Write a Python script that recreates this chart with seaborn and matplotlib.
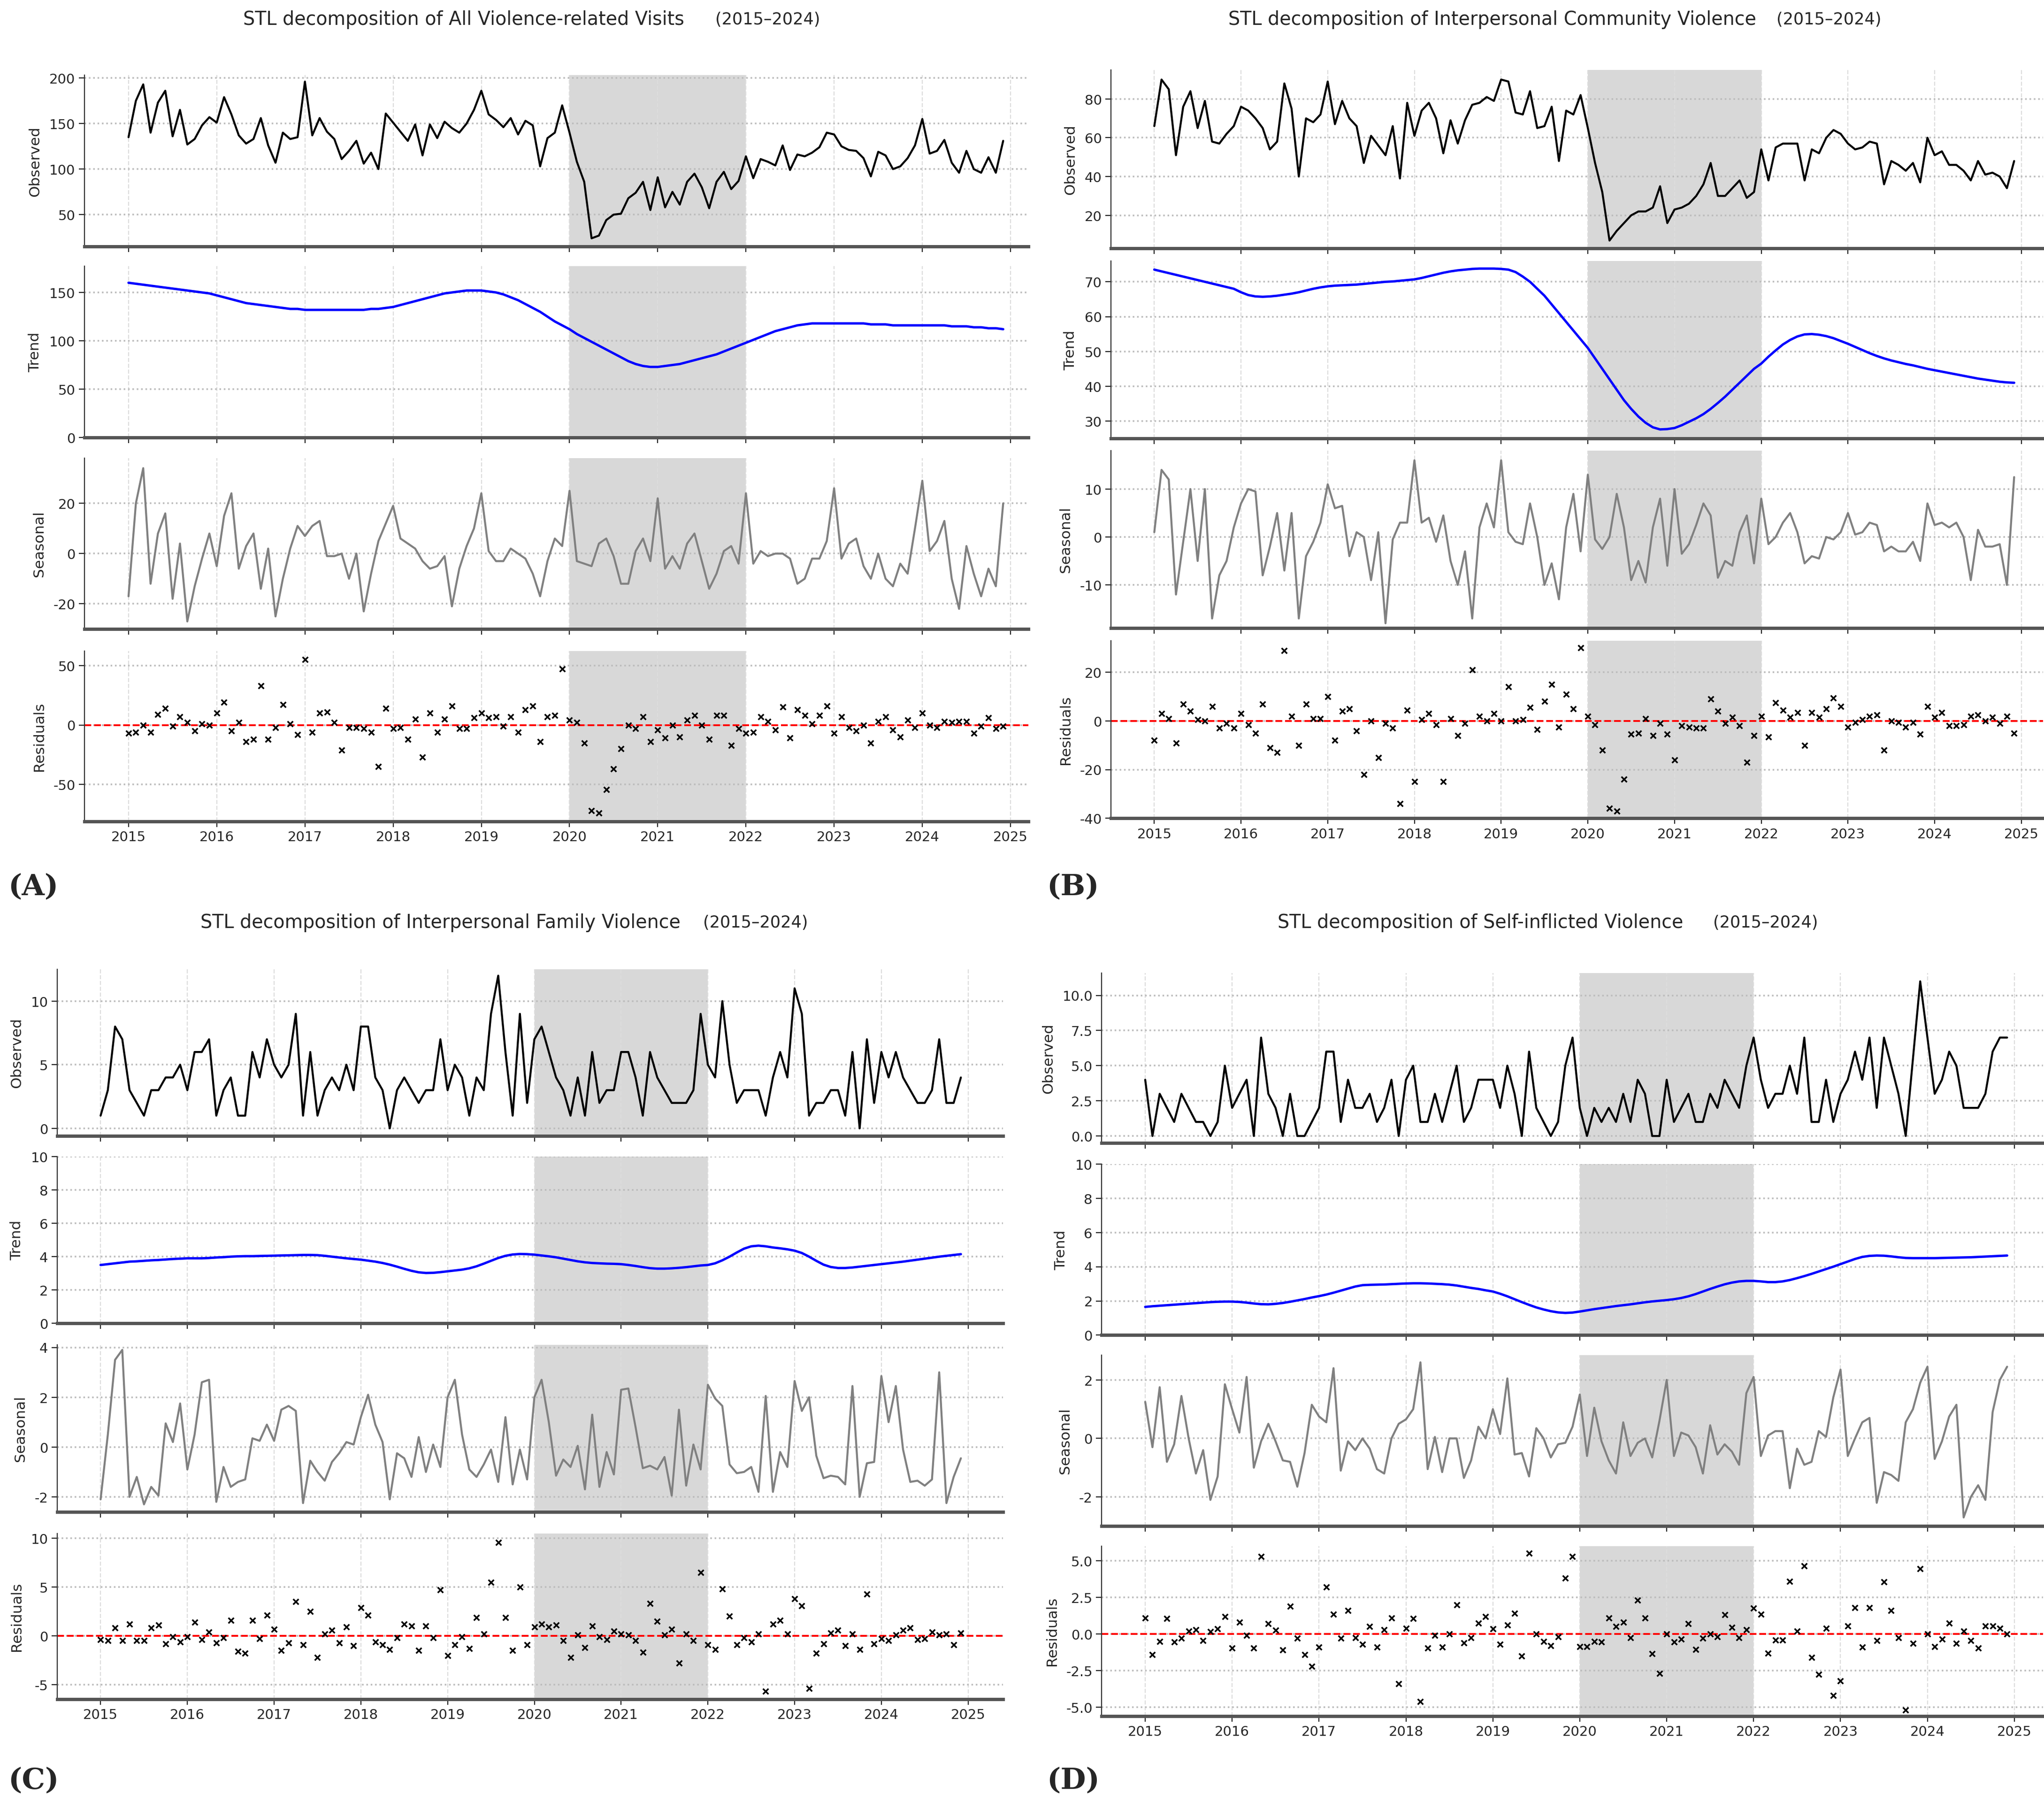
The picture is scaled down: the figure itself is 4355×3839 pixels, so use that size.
import numpy as np
import pandas as pd
import matplotlib
matplotlib.use("Agg")
import matplotlib.pyplot as plt
import seaborn as sns

# ---- data (monthly, Jan 2015 .. Dec 2024) ----
years = list(range(2015, 2025))

# (A) All Violence-related Visits
a_observed = [
    135, 175, 193, 140, 173, 186, 136, 165, 127, 133, 148, 157,
    151, 179, 160, 137, 128, 133, 156, 126, 107, 140, 133, 135,
    196, 137, 156, 141, 133, 111, 120, 131, 106, 118, 100, 161,
    151, 141, 131, 149, 115, 149, 134, 152, 145, 140, 150, 165,
    186, 160, 154, 146, 156, 138, 153, 148, 103, 134, 140, 170,
    140, 108, 86, 24, 27, 44, 50, 51, 68, 74, 86, 55,
    91, 58, 75, 61, 86, 95, 80, 57, 86, 97, 78, 87,
    114, 90, 111, 108, 104, 126, 99, 116, 114, 118, 124, 140,
    138, 125, 121, 120, 112, 92, 119, 115, 100, 103, 112, 126,
    155, 117, 120, 132, 107, 96, 120, 100, 96, 113, 96, 131]
a_trend = [
    160, 159, 158, 157, 156, 155, 154, 153, 152, 151, 150, 149,
    147, 145, 143, 141, 139, 138, 137, 136, 135, 134, 133, 133,
    132, 132, 132, 132, 132, 132, 132, 132, 132, 133, 133, 134,
    135, 137, 139, 141, 143, 145, 147, 149, 150, 151, 152, 152,
    152, 151, 150, 148, 145, 142, 138, 134, 130, 125, 120, 116,
    112, 107, 103, 99, 95, 91, 87, 83, 79, 76, 74, 73,
    73, 74, 75, 76, 78, 80, 82, 84, 86, 89, 92, 95,
    98, 101, 104, 107, 110, 112, 114, 116, 117, 118, 118, 118,
    118, 118, 118, 118, 118, 117, 117, 117, 116, 116, 116, 116,
    116, 116, 116, 116, 115, 115, 115, 114, 114, 113, 113, 112]
a_seasonal = [
    -17, 20, 34, -12, 8, 16, -18, 4, -27, -13, -2, 8,
    -5, 15, 24, -6, 3, 8, -14, 2, -25, -10, 2, 11,
    7, 11, 13, -1, -1, 0, -10, 0, -23, -8, 5, 12,
    19, 6, 4, 2, -3, -6, -5, -1, -21, -6, 3, 10,
    24, 1, -3, -3, 2, 0, -2, -8, -17, -3, 6, 3,
    25, -3, -4, -5, 4, 6, -1, -12, -12, 1, 6, -3,
    22, -6, -1, -6, 4, 8, -3, -14, -8, 1, 3, -4,
    24, -4, 1, -1, 0, 0, -2, -12, -10, -2, -2, 5,
    26, -2, 4, 6, -5, -10, 0, -10, -13, -4, -8, 10,
    29, 1, 5, 13, -10, -22, 3, -8, -17, -6, -13, 20]
a_resid = [
    -7, -6, 0, -6, 9, 14, -1, 7, 2, -5, 1, 0,
    10, 19, -5, 2, -14, -12, 33, -12, -2, 17, 1, -8,
    55, -6, 10, 11, 2, -21, -2, -2, -3, -6, -35, 14,
    -3, -2, -12, 5, -27, 10, -6, 5, 16, -3, -3, 6,
    10, 6, 7, -1, 7, -6, 13, 16, -14, 7, 8, 47,
    4, 2, -15, -72, -74, -54, -37, -20, 0, -3, 7, -14,
    -4, -11, 0, -10, 4, 8, 0, -12, 8, 8, -17, -3,
    -7, -6, 7, 3, -4, 15, -11, 13, 8, 1, 8, 16,
    -7, 7, -2, -5, 0, -15, 3, 7, -4, -10, 4, -2,
    10, 0, -2, 3, 2, 3, 3, -7, -1, 6, -3, -1]

# (B) Interpersonal Community Violence
b_observed = [
    66, 90, 85, 51, 76, 84, 65, 79, 58, 57, 62, 66,
    76, 74, 70, 65, 54, 58, 88, 75, 40, 70, 68, 72,
    89, 67, 79, 70, 66, 47, 61, 56, 51, 66, 39, 78,
    61, 74, 78, 70, 52, 69, 57, 69, 77, 78, 81, 79,
    90, 89, 73, 72, 84, 65, 66, 76, 48, 74, 72, 82,
    65, 47, 32, 7, 12, 16, 20, 22, 22, 24, 35, 16,
    23, 24, 26, 30, 36, 47, 30, 30, 34, 38, 29, 32,
    54, 38, 55, 57, 57, 57, 38, 54, 52, 60, 64, 62,
    57, 54, 55, 58, 57, 36, 48, 46, 43, 47, 37, 60,
    51, 53, 46, 46, 43, 38, 48, 41, 42, 40, 34, 48]
b_trend = [
    73.5, 73, 72.5, 72, 71.5, 71, 70.5, 70, 69.5, 69, 68.5, 68,
    67, 66.2, 65.8, 65.7, 65.8, 66, 66.3, 66.6, 67, 67.5, 68, 68.4,
    68.7, 68.9, 69, 69.1, 69.2, 69.4, 69.6, 69.8, 70, 70.1, 70.3, 70.5,
    70.7, 71.1, 71.6, 72.1, 72.6, 73, 73.3, 73.5, 73.7, 73.8, 73.8, 73.8,
    73.7, 73.5, 72.8, 71.5, 70, 68, 66, 63.5, 61, 58.5, 56, 53.5,
    51, 48, 45, 42, 39, 36, 33.5, 31.3, 29.5, 28.2, 27.6, 27.7,
    28, 28.8, 29.8, 30.8, 32, 33.5, 35.2, 37, 39, 41, 43, 45,
    46.5, 48.5, 50.3, 52, 53.3, 54.3, 54.9, 55, 54.8, 54.4, 53.8, 53,
    52.2, 51.3, 50.4, 49.5, 48.7, 48, 47.4, 46.9, 46.4, 46, 45.5, 45,
    44.6, 44.2, 43.8, 43.4, 43, 42.6, 42.2, 41.9, 41.6, 41.3, 41.1, 41]
b_seasonal = [
    1, 14, 12, -12, -1, 10, -5, 10, -17, -8, -5, 2,
    7, 10, 9.5, -8, -2, 5, -7, 5, -17, -4, -1, 3,
    11, 6, 6.5, -4, 1, 0, -9, 1, -18, -0.5, 3, 3,
    16, 3, 4, -1, 4.5, -5, -10, -3, -17, 2, 7, 2,
    16, 1, -1, -1.5, 7, 0, -10, -5.5, -13, 2, 9, -3,
    13, -0.5, -2.5, 0, 9, 2, -9, -5, -9.5, 2, 8, -6,
    10, -3.5, -1.5, 2.5, 7, 4.5, -8.5, -5, -6, 1, 4.5, -5.5,
    8, -1.5, 0, 3, 5, 1, -5.5, -4, -4.5, 0, -0.5, 1,
    5, 0.5, 1, 3, 2.5, -3, -2, -3, -3, -1, -5, 7,
    2.5, 3, 2, 3, 0, -9, 1.5, -2, -2, -1.5, -10, 12.5]
b_resid = [
    -8, 3, 1, -9, 7, 4, 0.5, 0, 6, -3, -1, -3,
    3, -1.5, -5, 7, -11, -13, 29, 2, -10, 7, 1, 1,
    10, -8, 4, 5, -4, -22, 0, -15, -1, -3, -34, 4.5,
    -25, 0.5, 3, -1.5, -25, 1, -6, -1, 21, 2, 0, 3,
    0, 14, 0, 0.5, 5.5, -3.5, 8, 15, -2.5, 11, 5, 30,
    2, -1.5, -12, -36, -37, -24, -5.5, -5, 1, -6, -1, -5.5,
    -16, -2, -2.5, -3, -3, 9, 4, -1, 1.5, -2, -17, -6,
    2, -6.5, 7.5, 4.5, 1.5, 3.5, -10, 3.5, 1.5, 5, 9.5, 6,
    -2.5, -0.5, 0.5, 2, 2.5, -12, 0, -0.5, -2.5, -0.5, -5.5, 6,
    1.5, 3.5, -2, -2, -1.5, 2, 2.5, 0, 1.5, -1, 2, -5]

# (C) Interpersonal Family Violence
c_observed = [
    1, 3, 8, 7, 3, 2, 1, 3, 3, 4, 4, 5,
    3, 6, 6, 7, 1, 3, 4, 1, 1, 6, 4, 7,
    5, 4, 5, 9, 1, 6, 1, 3, 4, 3, 5, 3,
    8, 8, 4, 3, 0, 3, 4, 3, 2, 3, 3, 7,
    3, 5, 4, 1, 4, 3, 9, 12, 6, 1, 9, 2,
    7, 8, 6, 4, 3, 1, 4, 1, 6, 2, 3, 3,
    6, 6, 4, 1, 6, 4, 3, 2, 2, 2, 3, 9,
    5, 4, 10, 5, 2, 3, 3, 3, 1, 4, 6, 4,
    11, 9, 1, 2, 2, 3, 3, 1, 6, 0, 7, 2,
    6, 4, 6, 4, 3, 2, 2, 3, 7, 2, 2, 4]
c_trend = [
    3.5, 3.55, 3.6, 3.65, 3.7, 3.72, 3.75, 3.78, 3.8, 3.83, 3.86, 3.88,
    3.9, 3.9, 3.9, 3.92, 3.95, 3.97, 4.0, 4.02, 4.03, 4.03, 4.04, 4.05,
    4.06, 4.07, 4.08, 4.09, 4.1, 4.1, 4.09, 4.05, 4.0, 3.95, 3.9, 3.86,
    3.82, 3.76, 3.7, 3.62, 3.52, 3.4, 3.27, 3.15, 3.06, 3.02, 3.03, 3.07,
    3.12, 3.17, 3.22, 3.3, 3.42, 3.58, 3.75, 3.92, 4.05, 4.13, 4.16, 4.15,
    4.12, 4.07, 4.02, 3.96, 3.88, 3.8, 3.72, 3.66, 3.62, 3.6, 3.58, 3.57,
    3.55, 3.5, 3.44, 3.37, 3.31, 3.28, 3.28, 3.3, 3.33, 3.37, 3.42, 3.47,
    3.5, 3.6, 3.78, 4.0, 4.25, 4.48, 4.62, 4.66, 4.62, 4.55, 4.5, 4.44,
    4.36, 4.22, 4.0, 3.75, 3.52, 3.38, 3.32, 3.32, 3.35, 3.4, 3.45, 3.5,
    3.55, 3.6, 3.65, 3.7, 3.76, 3.82, 3.88, 3.94, 4.0, 4.05, 4.1, 4.15]
c_seasonal = [
    -2.1, 0.5, 3.5, 3.9, -2.0, -1.2, -2.3, -1.6, -1.95, 0.95, 0.2, 1.75,
    -0.9, 0.5, 2.6, 2.7, -2.2, -0.8, -1.6, -1.4, -1.3, 0.35, 0.25, 0.9,
    0.25, 1.5, 1.65, 1.45, -2.25, -0.55, -1.0, -1.35, -0.6, -0.25, 0.2, 0.1,
    1.2, 2.1, 0.9, 0.2, -2.1, -0.25, -0.45, -1.2, 0.4, -1.0, 0.1, -0.8,
    2.0, 2.7, 0.5, -0.9, -1.2, -0.7, -0.1, -1.4, 1.2, -1.5, -0.1, -1.3,
    2.0, 2.7, 1.0, -1.15, -0.5, -0.8, 0.05, -1.7, 1.3, -1.6, -0.2, -1.1,
    2.3, 2.35, 0.8, -0.85, -0.75, -0.9, -0.4, -1.95, 1.5, -1.55, 0.1, -0.9,
    2.5, 1.95, 1.65, -0.7, -1.05, -1.0, -0.8, -1.8, 2.05, -1.8, -0.2, -0.8,
    2.65, 1.45, 2.0, -0.35, -1.25, -1.15, -1.2, -1.5, 2.45, -2.0, -0.65, -0.6,
    2.85, 1.0, 2.45, -0.1, -1.4, -1.35, -1.55, -1.3, 3.0, -2.25, -1.2, -0.45]
c_resid = [
    -0.4, -0.5, 0.8, -0.5, 1.2, -0.5, -0.5, 0.8, 1.1, -0.8, -0.1, -0.6,
    -0.1, 1.4, -0.4, 0.4, -0.7, -0.2, 1.6, -1.6, -1.8, 1.6, -0.3, 2.1,
    0.7, -1.5, -0.7, 3.5, -0.9, 2.5, -2.2, 0.2, 0.6, -0.7, 0.9, -1.0,
    2.9, 2.1, -0.6, -0.9, -1.4, -0.2, 1.2, 1.0, -1.5, 1.0, -0.2, 4.7,
    -2.0, -0.9, -0.1, -1.3, 1.9, 0.2, 5.5, 9.6, 1.9, -1.5, 5.0, -0.9,
    0.9, 1.2, 0.9, 1.1, -0.5, -2.2, 0.1, -1.2, 1.0, -0.1, -0.4, 0.5,
    0.2, 0.1, -0.5, -1.7, 3.3, 1.5, 0.1, 0.7, -2.8, 0.2, -0.5, 6.5,
    -0.9, -1.4, 4.8, 2.0, -0.9, -0.2, -0.6, 0.2, -5.7, 1.2, 1.6, 0.2,
    3.8, 3.1, -5.4, -1.8, -0.8, 0.3, 0.6, -1.0, 0.2, -1.4, 4.3, -0.8,
    -0.3, -0.5, 0.1, 0.6, 0.8, -0.4, -0.3, 0.4, 0.1, 0.2, -0.9, 0.3]

# (D) Self-inflicted Violence
d_observed = [
    4, 0, 3, 2, 1, 3, 2, 1, 1, 0, 1, 5,
    2, 3, 4, 0, 7, 3, 2, 0, 3, 0, 0, 1,
    2, 6, 6, 1, 4, 2, 2, 3, 1, 2, 4, 0,
    4, 5, 1, 1, 3, 1, 3, 5, 1, 2, 4, 4,
    4, 2, 5, 3, 0, 6, 2, 1, 0, 1, 5, 7,
    2, 0, 2, 1, 2, 1, 3, 1, 4, 3, 0, 0,
    4, 1, 2, 3, 1, 1, 3, 2, 4, 3, 2, 5,
    7, 4, 2, 3, 3, 5, 3, 7, 1, 1, 4, 1,
    3, 4, 6, 4, 7, 2, 7, 5, 3, 0, 5.5, 11,
    7, 3, 4, 6, 5, 2, 2, 2, 3, 6, 7, 7]
d_trend = [
    1.65, 1.69, 1.72, 1.75, 1.78, 1.81, 1.84, 1.87, 1.9, 1.93, 1.95, 1.96,
    1.96, 1.94, 1.9, 1.85, 1.81, 1.8, 1.83, 1.88, 1.95, 2.03, 2.11, 2.2,
    2.28, 2.37, 2.48, 2.6, 2.72, 2.84, 2.92, 2.94, 2.95, 2.96, 2.98, 3.0,
    3.02, 3.03, 3.03, 3.02, 3.0, 2.98, 2.95, 2.9, 2.83, 2.76, 2.7, 2.62,
    2.55, 2.42, 2.27, 2.1, 1.93, 1.77, 1.62, 1.5, 1.4, 1.33, 1.3, 1.32,
    1.38, 1.45, 1.52, 1.58, 1.64, 1.7, 1.75, 1.8, 1.86, 1.92, 1.97, 2.01,
    2.05, 2.1, 2.17, 2.27, 2.4, 2.55, 2.7, 2.84, 2.97, 3.07, 3.14, 3.17,
    3.17, 3.14, 3.1, 3.1, 3.14, 3.22, 3.33, 3.45, 3.58, 3.72, 3.86, 4.0,
    4.15, 4.3, 4.45, 4.57, 4.63, 4.65, 4.64, 4.6, 4.55, 4.51, 4.5, 4.5,
    4.5, 4.5, 4.51, 4.52, 4.53, 4.54, 4.55, 4.57, 4.59, 4.61, 4.63, 4.65]
d_seasonal = [
    1.25, -0.3, 1.75, -0.8, -0.2, 1.45, 0.0, -1.2, -0.4, -2.1, -1.3, 1.85,
    1.0, 0.2, 2.1, -1.0, -0.1, 0.5, -0.1, -0.75, -0.8, -1.65, -0.5, 1.15,
    0.75, 0.55, 2.4, -1.1, -0.1, -0.4, 0.0, -0.35, -1.05, -1.2, 0.0, 0.5,
    0.65, 1.0, 2.6, -1.05, 0.05, -1.15, 0.0, 0.0, -1.35, -0.75, 0.4, 0.0,
    1.0, 0.15, 2.05, -0.55, -0.5, -1.3, 0.35, 0.0, -0.65, -0.2, -0.15, 0.4,
    1.5, -0.6, 1.05, -0.1, -0.75, -1.2, 0.55, -0.6, -0.15, 0.0, -0.65, 0.6,
    2.0, -0.6, 0.2, 0.1, -0.3, -1.2, 0.45, -0.55, -0.2, -0.45, -0.9, 1.55,
    2.1, -0.6, 0.1, 0.25, 0.25, -1.7, -0.35, -0.9, -0.8, 0.25, 0.05, 1.4,
    2.35, -0.6, 0.0, 0.55, 0.7, -2.2, -1.15, -1.25, -1.45, 0.55, 1.0, 1.9,
    2.45, -0.7, -0.1, 0.75, 1.15, -2.7, -2.0, -1.6, -2.1, 0.9, 2.0, 2.45]
d_resid = [
    1.1, -1.4, -0.5, 1.05, -0.55, -0.3, 0.2, 0.3, -0.45, 0.15, 0.35, 1.2,
    -0.95, 0.8, -0.1, -0.95, 5.3, 0.7, 0.25, -1.1, 1.9, -0.3, -1.4, -2.2,
    -0.9, 3.2, 1.35, -0.3, 1.6, -0.25, -0.7, 0.5, -0.9, 0.3, 1.1, -3.4,
    0.4, 1.05, -4.6, -0.95, -0.1, -0.9, 0.0, 2.0, -0.6, -0.25, 0.75, 1.2,
    0.35, -0.7, 0.6, 1.4, -1.5, 5.5, 0.0, -0.5, -0.8, -0.2, 3.8, 5.3,
    -0.85, -0.85, -0.5, -0.55, 1.1, 0.5, 0.8, -0.25, 2.3, 1.1, -1.35, -2.7,
    0.0, -0.55, -0.35, 0.7, -1.05, -0.3, 0.0, -0.2, 1.3, 0.45, -0.25, 0.3,
    1.75, 1.35, -1.3, -0.4, -0.4, 3.6, 0.2, 4.65, -1.6, -2.75, 0.4, -4.2,
    -3.2, 0.55, 1.8, -0.9, 1.8, -0.45, 3.55, 1.6, -0.25, -5.2, -0.65, 4.45,
    0.0, -0.85, -0.35, 0.75, -0.65, 0.2, -0.45, -0.95, 0.55, 0.55, 0.4, 0.0]

titles = ["All Violence-related Visits", "Interpersonal Community Violence",
          "Interpersonal Family Violence", "Self-inflicted Violence"]
panel_letters = ["(A)", "(B)", "(C)", "(D)"]

# ---- layout ----
sns.set_style("white")
plt.rcParams["font.family"] = ["DejaVu Sans"]

fig = plt.figure(figsize=(15.554, 13.714), dpi=280)

t = 2015 + np.arange(120) / 12.0

panels = [
    dict(obs=a_observed, trend=a_trend, seas=a_seasonal, res=a_resid,
         left=0.0413, right=0.503, xlim=(2014.5, 2025.2),
         rows=[(0.958, 0.863), (0.852, 0.757), (0.7456, 0.6508), (0.6385, 0.544)],
         ylims=[(15, 203), (0, 177), (-30, 38), (-81, 62)],
         yticks=[[50, 100, 150, 200], [0, 50, 100, 150], [-20, 0, 20], [-50, 0, 50]],
         title_x=(0.119, 0.350), title_y=0.989, lab=(0.004, 0.508)),
    dict(obs=b_observed, trend=b_trend, seas=b_seasonal, res=b_resid,
         left=0.5435, right=0.9995, xlim=(2014.5, 2025.25),
         rows=[(0.961, 0.862), (0.855, 0.7565), (0.7497, 0.6513), (0.6443, 0.5458)],
         ylims=[(3, 95), (25, 76), (-19, 18), (-40, 33)],
         yticks=[[20, 40, 60, 80], [30, 40, 50, 60, 70], [-10, 0, 10], [-40, -20, 0, 20]],
         title_x=(0.601, 0.869), title_y=0.989, lab=(0.512, 0.508)),
    dict(obs=c_observed, trend=c_trend, seas=c_seasonal, res=c_resid,
         left=0.028, right=0.4906, xlim=(2014.5, 2025.4),
         rows=[(0.462, 0.3695), (0.358, 0.2656), (0.2536, 0.161), (0.149, 0.057)],
         ylims=[(-0.6, 12.5), (0, 10), (-2.6, 4.1), (-6.5, 10.5)],
         yticks=[[0, 5, 10], [0, 2, 4, 6, 8, 10], [-2, 0, 2, 4], [-5, 0, 5, 10]],
         title_x=(0.098, 0.344), title_y=0.488, lab=(0.004, 0.012)),
    dict(obs=d_observed, trend=d_trend, seas=d_seasonal, res=d_resid,
         left=0.539, right=0.9995, xlim=(2014.5, 2025.33),
         rows=[(0.460, 0.3656), (0.354, 0.259), (0.248, 0.153), (0.142, 0.0477)],
         ylims=[(-0.5, 11.6), (0, 10), (-3.0, 2.85), (-5.6, 6.0)],
         yticks=[[0.0, 2.5, 5.0, 7.5, 10.0], [0, 2, 4, 6, 8, 10], [-2, 0, 2],
                 [-5.0, -2.5, 0.0, 2.5, 5.0]],
         title_x=(0.625, 0.838), title_y=0.488, lab=(0.512, 0.012)),
]

ylabels = ["Observed", "Trend", "Seasonal", "Residuals"]

for i, p in enumerate(panels):
    for r, (top, bot) in enumerate(p["rows"]):
        ax = fig.add_axes([p["left"], bot, p["right"] - p["left"], top - bot])
        df = pd.DataFrame({"t": t})
        if r == 0:
            df["v"] = p["obs"]
            sns.lineplot(data=df, x="t", y="v", ax=ax, color="black", lw=1.1)
        elif r == 1:
            df["v"] = p["trend"]
            sns.lineplot(data=df, x="t", y="v", ax=ax, color="blue", lw=1.3)
        elif r == 2:
            df["v"] = p["seas"]
            sns.lineplot(data=df, x="t", y="v", ax=ax, color="gray", lw=1.1)
        else:
            df["v"] = p["res"]
            ax.axhline(0, color="red", ls="--", lw=1.0, zorder=2)
            sns.scatterplot(data=df, x="t", y="v", ax=ax, marker="x", color="black",
                            s=9, linewidth=0.9, zorder=3)
        ax.axvspan(2020, 2022, color="gray", alpha=0.3, lw=0, zorder=0)
        ax.set_xlim(*p["xlim"])
        ax.set_ylim(*p["ylims"][r])
        yt = p["yticks"][r]
        ax.set_yticks(yt)
        if i == 3 and r in (0, 3):
            ax.set_yticklabels(["{:.1f}".format(v) for v in yt])
        else:
            ax.set_yticklabels(["{:g}".format(v) for v in yt])
        ax.set_xticks(list(range(2015, 2026)))
        if r == 3:
            ax.set_xticklabels([str(y) for y in range(2015, 2026)])
        else:
            ax.set_xticklabels([])
        ax.set_xlabel("")
        ax.set_ylabel(ylabels[r], fontsize=8)
        ax.tick_params(axis="both", labelsize=7.5, length=3, width=0.6,
                       bottom=True, left=True, direction="out", pad=2)
        ax.grid(axis="y", ls=":", color="#bbbbbb", lw=0.9)
        ax.grid(axis="x", ls="--", color="#dddddd", lw=0.6)
        ax.set_axisbelow(True)
        for s in ["top", "right"]:
            ax.spines[s].set_visible(False)
        ax.spines["left"].set_linewidth(0.6)
        ax.spines["left"].set_color("#333333")
        ax.spines["bottom"].set_linewidth(1.8)
        ax.spines["bottom"].set_color("#555555")

    fig.text(p["title_x"][0], p["title_y"], "STL decomposition of " + titles[i],
             fontsize=10.2, ha="left", va="center")
    fig.text(p["title_x"][1], p["title_y"], "(2015\u20132024)",
             fontsize=9, ha="left", va="center")
    fig.text(p["lab"][0], p["lab"][1], panel_letters[i], fontsize=16,
             fontweight="bold", family="DejaVu Serif", ha="left", va="center")

fig.savefig("out.png", dpi=280)
